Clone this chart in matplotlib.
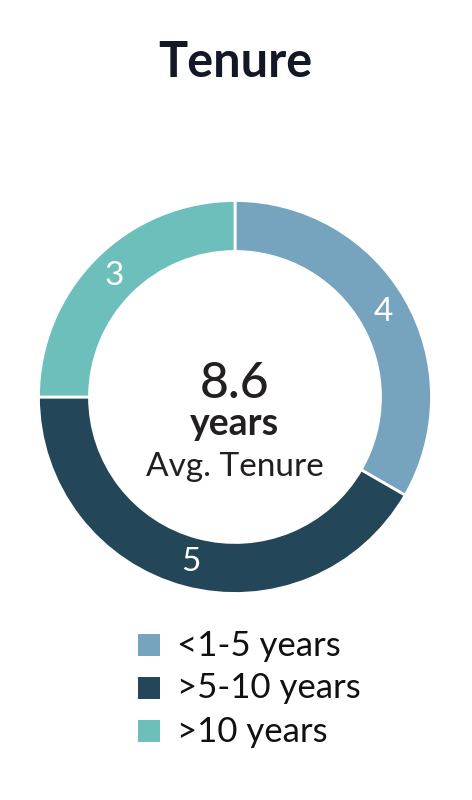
import matplotlib
matplotlib.use('Agg')
import matplotlib.pyplot as plt
from matplotlib.patches import Rectangle

plt.rcParams['font.family'] = ['Lato', 'DejaVu Sans']

# data
categories = ['<1-5 years', '>5-10 years', '>10 years']
counts = [4, 5, 3]
colors = ['#76A3BD', '#234658', '#6DBFBC']
avg_tenure = '8.6'

W, H = 472, 800
fig = plt.figure(figsize=(W / 100, H / 100), dpi=100)
ax = fig.add_axes([0, 0, 1, 1])

# donut, centre and radii in pixel units (y measured from bottom)
cx, cy = 235, H - 397
wedges, texts = ax.pie(counts, colors=colors, startangle=90, counterclock=False,
                       center=(cx, cy), radius=196.5,
                       labels=[str(c) for c in counts], labeldistance=0.87,
                       wedgeprops=dict(width=51, edgecolor='white', linewidth=2),
                       textprops=dict(color='white', fontsize=24))
for t in texts:
    t.set_ha('center')
    t.set_va('center')

ax.set_xlim(0, W)
ax.set_ylim(0, H)
ax.set_aspect('equal')
ax.axis('off')

# title
ax.text(cx, H - 77, 'Tenure', ha='center', va='baseline', fontsize=35,
        fontweight='bold', color='#121826')

# centre text
ax.text(cx, H - 398, avg_tenure, ha='center', va='baseline', fontsize=36,
        fontweight='medium', color='#231F20')
ax.text(cx, H - 435, 'years', ha='center', va='baseline', fontsize=27,
        fontweight='bold', color='#231F20')
ax.text(cx, H - 476, 'Avg. Tenure', ha='center', va='baseline', fontsize=24,
        color='#231F20')

# legend
for i, (lab, col) in enumerate(zip(categories, colors)):
    y = H - (645 + 43 * i)
    ax.add_patch(Rectangle((138, y - 11), 22, 22, facecolor=col, edgecolor='none'))
    ax.text(177, y - 10.5, lab, ha='left', va='baseline', fontsize=25, color='#111111')

fig.savefig('out.png', dpi=100, facecolor='white')
